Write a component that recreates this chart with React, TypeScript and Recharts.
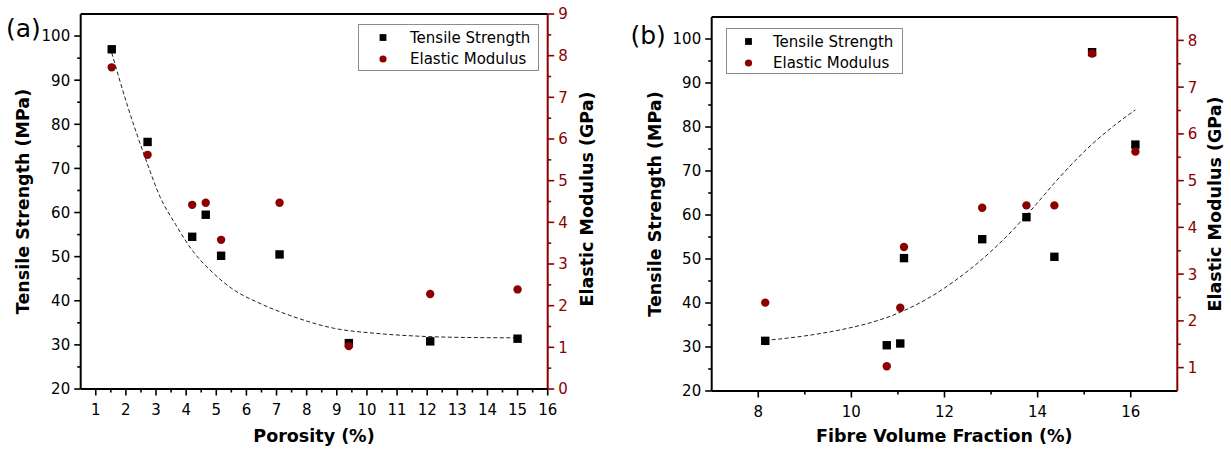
import React from 'react';
import { ComposedChart, Scatter, Line, XAxis, YAxis, Legend, ReferenceLine } from 'recharts';

const DARK_RED = '#8b0000';
const FONT = '"DejaVu Sans", sans-serif';

// ---- data ----
const porosity = [1.53, 2.72, 4.2, 4.65, 5.16, 7.1, 9.4, 12.1, 15.0];
const fibreFraction = [15.17, 16.1, 12.81, 13.76, 11.13, 14.36, 10.76, 11.05, 8.15];
const tensileStrength = [97.0, 76.0, 54.5, 59.5, 50.2, 50.5, 30.4, 30.8, 31.4];
const elasticModulus = [7.72, 5.62, 4.42, 4.47, 3.58, 4.47, 1.03, 2.28, 2.39];

const fitPorosityX = [1.53, 2.03, 2.71, 3.13, 3.65, 4.24, 4.79, 5.51, 6.45, 7.56, 8.88, 10.32, 11.98, 13.09, 15.0];
const fitPorosityY = [96.2, 84.7, 71.1, 63.6, 57.3, 51.1, 47.0, 42.8, 39.4, 36.4, 33.8, 32.6, 31.9, 31.7, 31.6];

const fitFibreX = [8.15, 8.61, 9.18, 9.9, 10.47, 11.05, 11.62, 12.19, 12.77, 13.34, 13.9, 14.49, 15.17, 15.63, 16.1];
const fitFibreY = [31.5, 32.0, 32.8, 34.2, 35.7, 37.9, 40.9, 44.8, 49.6, 55.2, 61.6, 68.8, 76.1, 80.2, 83.9];

// ---- ticks ----
const strengthTicks = [20, 25, 30, 35, 40, 45, 50, 55, 60, 65, 70, 75, 80, 85, 90, 95, 100];
const strengthMajor = [20, 30, 40, 50, 60, 70, 80, 90, 100];
const porosityTicks = [1, 1.5, 2, 2.5, 3, 3.5, 4, 4.5, 5, 5.5, 6, 6.5, 7, 7.5, 8, 8.5, 9, 9.5, 10, 10.5, 11, 11.5, 12, 12.5, 13, 13.5, 14, 14.5, 15, 15.5, 16];
const porosityMajor = [1, 2, 3, 4, 5, 6, 7, 8, 9, 10, 11, 12, 13, 14, 15, 16];
const modulusTicksA = [0, 0.5, 1, 1.5, 2, 2.5, 3, 3.5, 4, 4.5, 5, 5.5, 6, 6.5, 7, 7.5, 8, 8.5, 9];
const modulusMajorA = [0, 1, 2, 3, 4, 5, 6, 7, 8, 9];
const fibreTicks = [8, 9, 10, 11, 12, 13, 14, 15, 16];
const fibreMajor = [8, 10, 12, 14, 16];
const modulusTicksB = [1, 1.5, 2, 2.5, 3, 3.5, 4, 4.5, 5, 5.5, 6, 6.5, 7, 7.5, 8];
const modulusMajorB = [1, 2, 3, 4, 5, 6, 7, 8];

const seriesNames = ['Tensile Strength', 'Elastic Modulus'];

const toPoints = (xs: number[], ys: number[]) => xs.map((x, i) => ({ x, y: ys[i] }));

const tensileA = toPoints(porosity, tensileStrength);
const modulusA = toPoints(porosity, elasticModulus);
const fitA = toPoints(fitPorosityX, fitPorosityY);
const tensileB = toPoints(fibreFraction, tensileStrength);
const modulusB = toPoints(fibreFraction, elasticModulus);
const fitB = toPoints(fitFibreX, fitFibreY);

type Orient = 'bottom' | 'left' | 'right';

const TICK_FS = 15;

const makeTick = (orient: Orient, color: string, majors: number[]) => (props: any) => {
  const { x, y, payload } = props;
  const v = payload.value;
  const major = majors.some((m) => Math.abs(m - v) < 1e-6);
  const len = major ? 6.5 : 3.5;
  if (orient === 'bottom') {
    return (
      <g>
        <line x1={x} x2={x} y1={y} y2={y + len} stroke={color} strokeWidth={1.6} />
        {major && (
          <text x={x} y={y + 26} textAnchor="middle" fill={color} fontSize={TICK_FS} fontFamily={FONT}>
            {v}
          </text>
        )}
      </g>
    );
  }
  const dir = orient === 'left' ? -1 : 1;
  return (
    <g>
      <line x1={x} x2={x + dir * len} y1={y} y2={y} stroke={color} strokeWidth={1.6} />
      {major && (
        <text
          x={x + dir * 10.5}
          y={y}
          dy="0.36em"
          textAnchor={orient === 'left' ? 'end' : 'start'}
          fill={color}
          fontSize={TICK_FS}
          fontFamily={FONT}
        >
          {v}
        </text>
      )}
    </g>
  );
};

const SquareShape = (p: any) => <rect x={p.cx - 4.2} y={p.cy - 4.2} width={8.4} height={8.4} fill="#000" />;
const CircleShape = (p: any) => <circle cx={p.cx} cy={p.cy} r={4.2} fill={DARK_RED} />;

const legendContent = (w: number, h: number, symX: number, textX: number) => (props: any) => {
  const all = (props.payload || []).filter((e: any) => e.type !== 'none');
  const items = seriesNames
    .map((n) => all.find((e: any) => e.value === n))
    .filter((e: any) => !!e);
  return (
    <svg width={w} height={h} style={{ display: 'block' }}>
      <rect x={0.5} y={0.5} width={w - 1} height={h - 1} fill="#fff" stroke="#8c8c8c" strokeWidth={1} />
      {items.map((e: any, i: number) => {
        const cy = i === 0 ? 13.5 : 35;
        return (
          <g key={i}>
            {e.type === 'square' ? (
              <rect x={symX - 3.4} y={cy - 3.4} width={6.8} height={6.8} fill="#000" />
            ) : (
              <circle cx={symX} cy={cy} r={3.6} fill={DARK_RED} />
            )}
            <text x={textX} y={cy} dy="0.36em" fontSize={15} fontFamily={FONT} fill="#000">
              {e.value}
            </text>
          </g>
        );
      })}
    </svg>
  );
};

const titleStyle = { fontFamily: FONT, fontWeight: 'bold' as const, fontSize: 17.5, fill: '#000' };

const vTitle = (cx: number, cy: number, text: string, extra?: React.ReactNode) => () => (
  <g>
    <text
      x={cx}
      y={cy}
      transform={`rotate(-90 ${cx} ${cy})`}
      textAnchor="middle"
      dominantBaseline="central"
      {...titleStyle}
    >
      {text}
    </text>
    {extra}
  </g>
);

const hTitle = (cx: number, baseY: number, text: string) => () => (
  <text x={cx} y={baseY} textAnchor="middle" {...titleStyle}>
    {text}
  </text>
);

const panelLabel = (x: number, y: number, text: string) => (
  <text x={x} y={y} fontFamily={FONT} fontSize={25} fill="#000">
    {text}
  </text>
);

function ChartA() {
  return (
    <ComposedChart width={615} height={452} margin={{ top: 14, right: 0, bottom: 0, left: 0 }}>
      <XAxis
        dataKey="x"
        type="number"
        domain={[0.5, 16]}
        allowDataOverflow
        ticks={porosityTicks}
        interval={0}
        height={63}
        tickSize={0}
        tickMargin={0}
        tickLine={false}
        axisLine={{ stroke: '#000', strokeWidth: 2 }}
        tick={makeTick('bottom', '#000', porosityMajor)}
        label={hTitle(314, 441.5, 'Porosity (%)')}
      />
      <YAxis
        yAxisId="left"
        dataKey="y"
        type="number"
        domain={[20, 105]}
        allowDataOverflow
        ticks={strengthTicks}
        interval={0}
        width={80.7}
        tickSize={0}
        tickMargin={0}
        tickLine={false}
        axisLine={{ stroke: '#000', strokeWidth: 2 }}
        tick={makeTick('left', '#000', strengthMajor)}
        label={vTitle(23, 201.5, 'Tensile Strength (MPa)', panelLabel(6, 37, '(a)'))}
      />
      <YAxis
        yAxisId="right"
        orientation="right"
        dataKey="y"
        type="number"
        domain={[0, 9]}
        allowDataOverflow
        ticks={modulusTicksA}
        interval={0}
        width={67.3}
        tickSize={0}
        tickMargin={0}
        tickLine={false}
        axisLine={{ stroke: DARK_RED, strokeWidth: 2 }}
        tick={makeTick('right', DARK_RED, modulusMajorA)}
        label={vTitle(587, 199, 'Elastic Modulus (GPa)')}
      />
      <ReferenceLine yAxisId="left" y={105} stroke="#000" strokeWidth={2} />
      <Line
        yAxisId="left"
        data={fitA}
        dataKey="y"
        type="monotone"
        stroke="#222"
        strokeWidth={1}
        strokeDasharray="4 2.5"
        dot={false}
        activeDot={false}
        legendType="none"
        isAnimationActive={false}
      />
      <Scatter
        yAxisId="left"
        name={seriesNames[0]}
        data={tensileA}
        fill="#000"
        legendType="square"
        shape={SquareShape}
        isAnimationActive={false}
      />
      <Scatter
        yAxisId="right"
        name={seriesNames[1]}
        data={modulusA}
        fill={DARK_RED}
        legendType="circle"
        shape={CircleShape}
        isAnimationActive={false}
      />
      <Legend
        layout="vertical"
        align="center"
        verticalAlign="middle"
        wrapperStyle={{ left: 358, top: 24, width: 181, height: 47 }}
        content={legendContent(181, 47, 25, 52)}
      />
    </ComposedChart>
  );
}

function ChartB() {
  return (
    <ComposedChart width={616} height={452} margin={{ top: 17, right: 0, bottom: 0, left: 0 }}>
      <XAxis
        dataKey="x"
        type="number"
        domain={[7, 17]}
        allowDataOverflow
        ticks={fibreTicks}
        interval={0}
        height={61}
        tickSize={0}
        tickMargin={0}
        tickLine={false}
        axisLine={{ stroke: '#000', strokeWidth: 2 }}
        tick={makeTick('bottom', '#000', fibreMajor)}
        label={hTitle(329.3, 441.5, 'Fibre Volume Fraction (%)')}
      />
      <YAxis
        yAxisId="left"
        dataKey="y"
        type="number"
        domain={[20, 105]}
        allowDataOverflow
        ticks={strengthTicks}
        interval={0}
        width={96.7}
        tickSize={0}
        tickMargin={0}
        tickLine={false}
        axisLine={{ stroke: '#000', strokeWidth: 2 }}
        tick={makeTick('left', '#000', strengthMajor)}
        label={vTitle(40, 204, 'Tensile Strength (MPa)', panelLabel(15.5, 43.5, '(b)'))}
      />
      <YAxis
        yAxisId="right"
        orientation="right"
        dataKey="y"
        type="number"
        domain={[0.5, 8.5]}
        allowDataOverflow
        ticks={modulusTicksB}
        interval={0}
        width={53.7}
        tickSize={0}
        tickMargin={0}
        tickLine={false}
        axisLine={{ stroke: DARK_RED, strokeWidth: 2 }}
        tick={makeTick('right', DARK_RED, modulusMajorB)}
        label={vTitle(600, 204, 'Elastic Modulus (GPa)')}
      />
      <ReferenceLine yAxisId="left" y={105} stroke="#000" strokeWidth={2} />
      <Line
        yAxisId="left"
        data={fitB}
        dataKey="y"
        type="monotone"
        stroke="#222"
        strokeWidth={1}
        strokeDasharray="4 2.5"
        dot={false}
        activeDot={false}
        legendType="none"
        isAnimationActive={false}
      />
      <Scatter
        yAxisId="left"
        name={seriesNames[0]}
        data={tensileB}
        fill="#000"
        legendType="square"
        shape={SquareShape}
        isAnimationActive={false}
      />
      <Scatter
        yAxisId="right"
        name={seriesNames[1]}
        data={modulusB}
        fill={DARK_RED}
        legendType="circle"
        shape={CircleShape}
        isAnimationActive={false}
      />
      <Legend
        layout="vertical"
        align="center"
        verticalAlign="middle"
        wrapperStyle={{ left: 110.8, top: 27.5, width: 177, height: 46 }}
        content={legendContent(177, 46, 22.5, 47)}
      />
    </ComposedChart>
  );
}

export default function App() {
  return (
    <div
      style={{
        position: 'absolute',
        left: 0,
        top: 0,
        width: 1231,
        height: 452,
        background: '#fff',
        fontFamily: FONT,
      }}
    >
      <div style={{ position: 'absolute', left: 0, top: 0 }}>
        <ChartA />
      </div>
      <div style={{ position: 'absolute', left: 615, top: 0 }}>
        <ChartB />
      </div>
    </div>
  );
}
